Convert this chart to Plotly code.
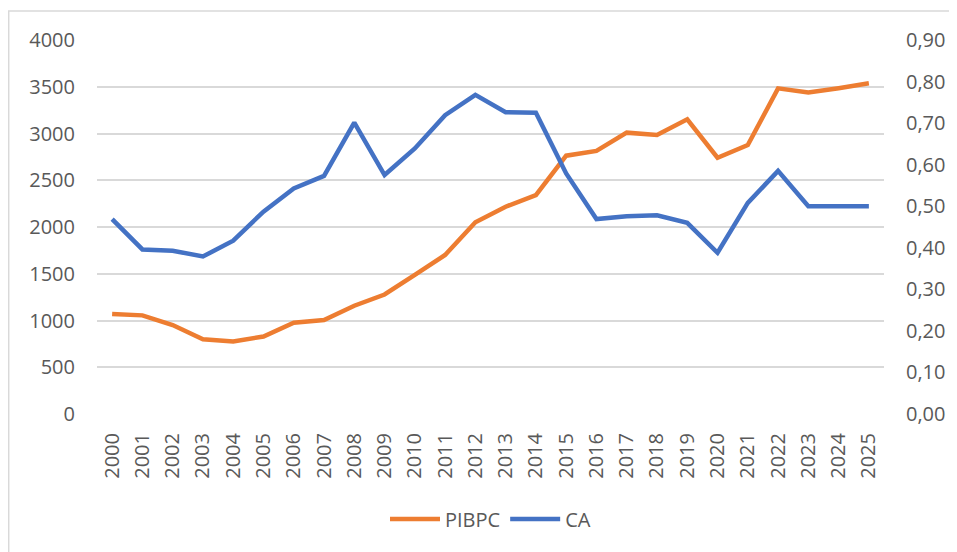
import plotly.graph_objects as go

years = [str(y) for y in range(2000, 2026)]
pibpc = [1070, 1055, 952, 799, 776, 829, 977, 1005, 1158, 1278,
         1487, 1701, 2050, 2217, 2342, 2763, 2814, 3009, 2984, 3152,
         2741, 2877, 3483, 3440, 3485, 3537]
ca = [0.469, 0.396, 0.393, 0.379, 0.417, 0.487, 0.543, 0.573, 0.701, 0.575,
      0.639, 0.719, 0.768, 0.726, 0.725, 0.579, 0.469, 0.476, 0.478, 0.460,
      0.388, 0.508, 0.585, 0.500, 0.500, 0.500]
left_ticks = [0, 500, 1000, 1500, 2000, 2500, 3000, 3500, 4000]
right_ticks = [0, 0.1, 0.2, 0.3, 0.4, 0.5, 0.6, 0.7, 0.8, 0.9]

ORANGE = "#ED7D31"
BLUE = "#4472C4"
GREY_TXT = "#595959"
GRID = "#D9D9D9"
FONT = "Open Sans"

fig = go.Figure()
fig.add_trace(go.Scatter(x=years, y=pibpc, name="PIBPC", mode="lines",
                         line=dict(color=ORANGE, width=4.5), yaxis="y"))
fig.add_trace(go.Scatter(x=years, y=ca, name="CA", mode="lines",
                         line=dict(color=BLUE, width=4.5), yaxis="y2"))

fig.update_layout(
    width=949, height=544,
    margin=dict(l=89, r=71, t=32, b=138),
    paper_bgcolor="white", plot_bgcolor="white",
    font=dict(family=FONT, size=20, color=GREY_TXT),
    separators=", ",
    showlegend=True,
    legend=dict(orientation="h", x=0.5, xanchor="center", y=-0.281, yanchor="middle",
                font=dict(family=FONT, size=20, color=GREY_TXT), itemwidth=50,
                bgcolor="rgba(0,0,0,0)"),
    xaxis=dict(type="category", range=[-0.5, 25.5], tickangle=-90, showgrid=False,
               zeroline=False, showline=False, ticks="",
               tickfont=dict(size=20, color=GREY_TXT), ticklabelstandoff=14),
    yaxis=dict(range=[0, 4000], tickvals=left_ticks, tickformat="d",
               showgrid=True, gridcolor=GRID, gridwidth=1.5, zeroline=False,
               showline=False, ticks="", ticklabelstandoff=21,
               tickfont=dict(size=20, color=GREY_TXT)),
    yaxis2=dict(range=[0, 0.9], tickvals=right_ticks, tickformat=".2f",
                overlaying="y", side="right", showgrid=False, zeroline=False,
                showline=False, ticks="", ticklabelstandoff=21,
                tickfont=dict(size=20, color=GREY_TXT)),
    shapes=[dict(type="rect", xref="paper", yref="paper",
                 x0=-0.1122, x1=1.3, y0=-0.6, y1=1.0775,
                 line=dict(color=GRID, width=1.5), fillcolor="rgba(0,0,0,0)",
                 layer="below")],
)

fig.write_html("out.html")
